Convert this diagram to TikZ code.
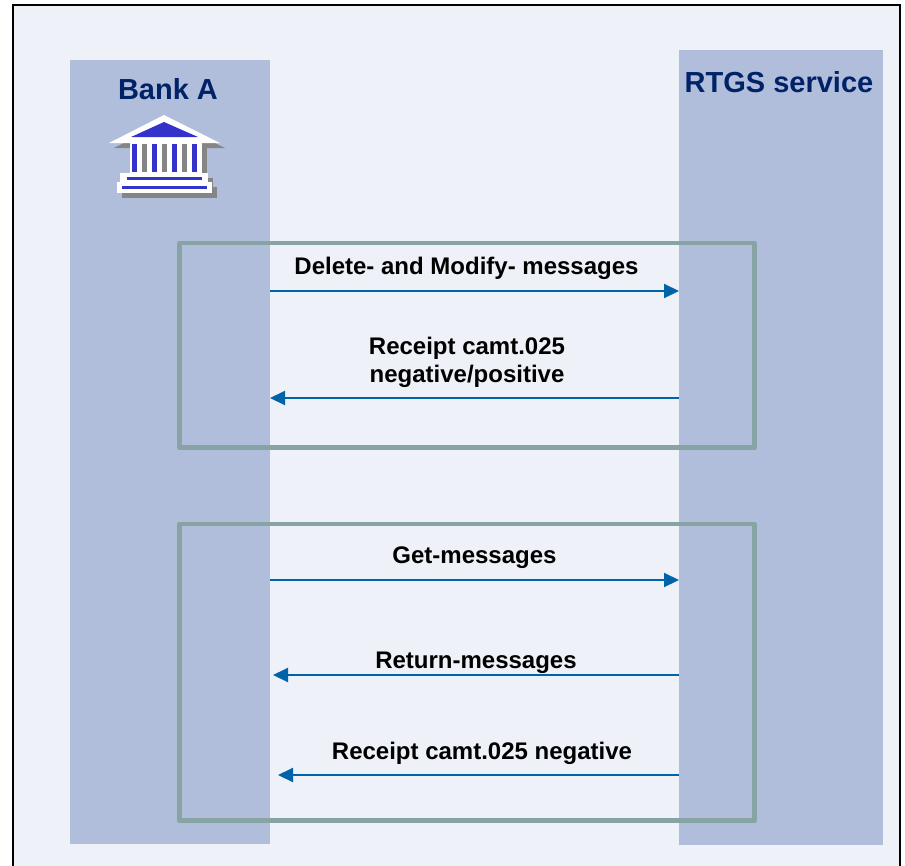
\documentclass[tikz,border=0pt]{standalone}
\usepackage{fontspec}
\setmainfont{Liberation Sans}
\usetikzlibrary{arrows.meta}
\definecolor{pagebg}{HTML}{EEF1F7}
\definecolor{lanebg}{HTML}{B0BEDC}
\definecolor{framegray}{HTML}{88A3A4}
\definecolor{msgblue}{HTML}{0062A8}
\definecolor{headblue}{HTML}{002266}
\definecolor{iconblue}{HTML}{3333CC}
\definecolor{iconshade}{HTML}{858585}
\begin{document}
\begin{tikzpicture}[x=1pt, y=-1pt, >={Triangle[length=15pt,width=14pt]},
  lane/.style={fill=lanebg, draw=none, inner sep=0pt},
  head/.style={text=headblue, font=\fontsize{29}{34}\selectfont\bfseries, anchor=base, inner sep=0pt},
  msg/.style={->, draw=msgblue, line width=2pt},
  block/.style={draw=framegray, line width=4.5pt, line join=round}]
        \tikzstyle{every node}=[font=\fontsize{24}{28}\selectfont\bfseries]
        \tikzstyle{lbl}=[inner sep=0pt, text depth=0pt, align=center]

          \useasboundingbox (0,0) rectangle (905,865);
          \fill[white] (0,0) rectangle (905,865);
          \fill[pagebg] (12.5,4.5) rectangle (900,866);
          \draw[line width=2pt] (12.5,867) -- (12.5,4.5) -- (900,4.5) -- (900,867);

          % lanes
          \node[lane, minimum width=200pt, minimum height=784pt] (bank) at (170,452) {};
          \node[lane, minimum width=204pt, minimum height=795pt] (rtgs) at (781,447.5) {};
          \node[head] (bankname) at (168,99) {Bank A};
          \node[head] (rtgsname) at (779,92) {RTGS service};

          % bank icon
          \begin{scope}[shift={(5,5)}, iconshade]
            \fill (109,143) -- (164,115) -- (220,143) -- cycle;
            \fill (130,142) rectangle (202,173);
            \fill (120,173) rectangle (208,182);
            \fill (117,182) rectangle (212,193);
          \end{scope}
          \fill[white] (109,143) -- (164,115) -- (220,143) -- cycle;
          \fill[white] (130,142) rectangle (202,173);
          \fill[white] (120,173) rectangle (208,182);
          \fill[white] (117,182) rectangle (212,193);
          \fill[iconblue] (131,137) -- (164,122) -- (198,137) -- cycle;
          \foreach \x in {132,152,172,192}
            \fill[iconblue] (\x,144) rectangle (\x+5,172);
          \foreach \x in {142,162,182}
            \fill[iconshade] (\x,144) rectangle (\x+5,172);
          \fill[iconblue] (127,177) rectangle (202,179.5);
          \fill[iconblue] (122,186) rectangle (207,188.5);

          % blocks
          \draw[block] (179.5,243) rectangle (754.5,447.5);
          \draw[block] (179.5,524) rectangle (754.5,820.5);

          % messages
          \coordinate (b1) at (270,291);   \coordinate (r1) at (679,291);
          \coordinate (b2) at (270,398);   \coordinate (r2) at (679,398);
          \coordinate (b3) at (270,580);   \coordinate (r3) at (679,580);
          \coordinate (b4) at (273,675);   \coordinate (r4) at (679,675);
          \coordinate (b5) at (278,775);   \coordinate (r5) at (679,775);

          \path (b1) edge[msg] node [lbl, above=16pt, xshift=-8pt] {Delete- and Modify- messages} (r1)
                (r2) edge[msg] node [lbl, above=15pt, xshift=-7.5pt] {Receipt camt.025\\negative/positive} (b2)
                (b3) edge[msg] node [lbl, above=16pt] {Get-messages} (r3)
                (r4) edge[msg] node [lbl, above=6pt] {Return-messages} (b4)
                (r5) edge[msg] node [lbl, above=15pt, xshift=3.5pt] {Receipt camt.025 negative} (b5);

        \end{tikzpicture}
\end{document}
